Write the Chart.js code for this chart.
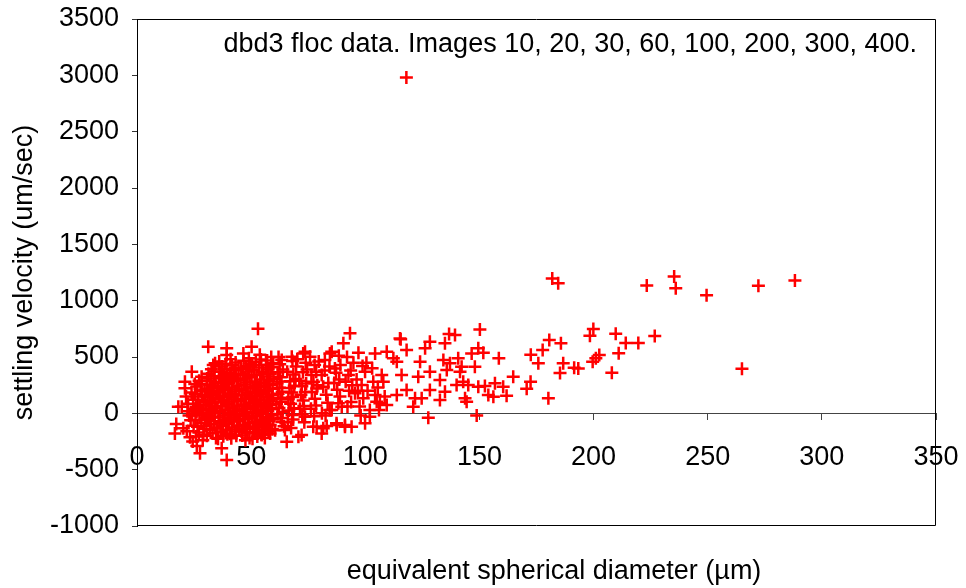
<!DOCTYPE html>
<html>
<head>
<meta charset="utf-8">
<script src="https://cdn.jsdelivr.net/npm/chart.js@4.4.1/dist/chart.umd.min.js"></script>
<style>
  html, body { margin: 0; padding: 0; background: #ffffff; }
  #wrap { width: 966px; height: 588px; }
</style>
</head>
<body>
<div id="wrap"><canvas id="chart" width="966" height="588"></canvas></div>
<script>
// Floc measurements: [equivalent spherical diameter (µm), settling velocity (um/sec)]
const smallFlocs = [
  [16.6,-178],[17.2,-95],[18.1,59],[19.6,59],[20.3,-133],[21,280],[21,222],[21.5,150],[22.4,84],[22.8,-20],
  [23.5,-62],[21.8,-160],[23.2,-212],[24.4,-250],[22.1,18],[24.8,-110],[24,369],[24.6,120],[23.9,185],[25,40],[24.2,-5],
  [27.6,-355],[26.2,-290],[28.8,-240],[25.8,-205],[27.1,-170],[29.4,-140],[26.5,-118],[28.2,-85],[25.6,-60],[29.8,-42],
  [27.4,-20],[26.1,12],[28.9,25],[25.9,58],[27.7,72],[29.2,96],[26.8,118],[28.4,150],[25.5,172],[27.9,196],
  [29.6,210],[26.3,238],[28.3,262],[27.2,290],[28.3,325],[29.1,-190],[29.9,160],[25.3,260],[28.6,-5],[27,40],
  [31.2,591],[33.4,429],[34.2,444],[34.6,-220],[30.6,-198],[33.1,-176],[31.9,-150],[34.9,-132],
  [30.4,-110],[32.3,-95],[33.8,-70],[31.1,-52],[34.1,-35],[30.8,-12],[32.6,5],[33.9,22],[31.4,40],[34.5,58],
  [30.2,75],[32.9,92],[31.7,110],[34.3,128],[30.9,146],[33.3,165],[32.1,182],[34.8,200],[30.5,218],[33.6,236],
  [31.8,254],[34.4,272],[32.4,290],[30.7,310],[33.7,330],[31.3,352],[34.0,372],[32.6,392],[30.3,-60],[32,-30],[33,60],[31,200],
  [39.3,577],[39.3,518],[37.1,-311],[39.3,-414],[35.5,-226],[37.8,-204],[39.6,-186],[36.6,-165],
  [38.9,-146],[35.3,-128],[37.3,-110],[39.1,-92],[36.1,-74],[38.2,-56],[35.8,-38],[37.6,-20],[39.8,-4],[36.4,14],
  [38.7,30],[35.2,48],[37.1,66],[39.4,82],[36.9,100],[38.1,118],[35.7,136],[37.9,154],[39.7,170],[36.3,188],
  [38.5,206],[35.4,224],[37.4,242],[39.2,258],[36.7,276],[38.8,294],[35.9,312],[37.7,332],[39.5,350],[36.5,370],
  [38.3,392],[37.2,415],[39,440],[36,460],
  [41.3,-222],[43.5,-200],[40.8,-182],[42.9,-162],[44.7,-144],[41.6,-126],[43.8,-108],
  [40.2,-90],[42.2,-72],[44.4,-54],[41.1,-36],[43.1,-18],[40.6,0],[42.7,16],[44.9,32],[41.8,50],[43.6,68],
  [40.3,86],[42.4,104],[44.1,122],[41.4,140],[43.3,158],[40.9,176],[42.8,194],[44.6,212],[41.7,230],[43.9,248],
  [40.4,266],[42.1,284],[44.3,302],[41.2,320],[43.4,340],[40.7,360],[42.5,382],[44.5,404],[41.5,428],[43.2,452],
  [41,480],[43.7,-5],[40.1,150],
  [46.6,532],[50.2,591],[47.5,-238],[49.3,-218],[46.1,-196],[48.4,-176],[45.7,-158],[47.9,-140],[49.6,-122],
  [46.5,-104],[48.7,-86],[45.2,-68],[47.3,-50],[49.1,-32],[46.3,-14],[48.2,4],[45.9,22],[47.7,40],[49.8,58],
  [46.8,76],[48.9,94],[45.5,112],[47.1,130],[49.4,148],[46.2,166],[48.5,184],[45.8,202],[47.6,220],[49.7,238],
  [46.9,256],[48.1,274],[45.3,292],[47.4,310],[49.2,330],[46.4,350],[48.6,372],[45.6,394],[47.8,418],[49.5,442],
  [46.7,466],[49,490],[47,-10],
  [53,750],[50.6,-225],[52.7,-205],[54.5,-186],[51.3,-168],[53.4,-150],[50.9,-132],[52.9,-114],[54.8,-96],[51.6,-78],
  [53.7,-60],[50.3,-42],[52.2,-24],[54.2,-6],[51.1,12],[53.2,30],[50.8,48],[52.8,66],[54.6,84],[51.8,102],
  [53.6,120],[50.4,138],[52.4,156],[54.1,174],[51.4,192],[53.3,210],[50.7,228],[52.6,246],[54.4,264],[51.7,282],
  [53.9,300],[50.2,320],[52.3,340],[54.7,362],[51.2,384],[53.5,406],[50.5,430],[52.1,455],[54.3,478],[54.6,-193],
  [53.8,520],
  [55.4,-178],[57.6,-160],[59.3,-142],[56.2,-124],[58.3,-106],[55.8,-88],[57.9,-70],[59.7,-52],[56.6,-34],[58.7,-16],
  [55.2,2],[57.3,20],[59.1,38],[56.4,56],[58.5,74],[55.9,92],[57.8,110],[59.6,128],[56.8,146],[58.9,164],
  [55.5,182],[57.1,200],[59.4,218],[56.1,236],[58.1,254],[55.7,272],[57.7,290],[59.8,308],[56.9,326],[58.4,346],
  [55.3,366],[57.4,388],[59.2,410],[56.5,432],[59.7,444],[58.3,-178],[56,-220],[57,470],[58.8,500]
];

const mediumFlocs = [
  [60.5,-150],[64.4,-114],[63.5,-78],[62.9,-42],[61.6,-6],[63.8,12],[62.2,48],[61.1,84],[63.2,102],[62.8,138],
  [61.8,174],[63.6,192],[62.4,228],[61.4,264],[63.3,282],[62.7,320],[61.7,364],[63.9,388],[62.5,436],[63.4,473],
  [64.8,-148],[62,500],
  [65.6,-252],[67.8,503],[67.5,-130],[66.1,-80],[68.4,-55],[67.9,-15],[66.5,25],[68.7,45],[67.3,85],[66.3,125],
  [68.2,145],[67.7,185],[66.8,225],[68.9,245],[67.1,285],[69.4,305],[68.5,345],[65.8,368],[69.7,415],[68.1,465],
  [70.7,-207],[72.1,-193],[72.8,532],[73.6,547],[73.3,-80],[73.6,-30],[72.4,-10],[71.4,40],[73.1,65],[72.8,115],
  [71.8,165],[73.7,190],[72.2,240],[74.1,265],[71.1,290],[72.7,365],[74.5,390],[73.9,450],[70.2,480],
  [75.8,503],[77.2,-119],[78.7,-119],[77.6,-25],[76.2,40],[78.4,70],[77.9,130],[76.6,190],[78.7,220],[77.3,280],
  [76.4,340],[78.5,370],[77.8,430],[79.6,460],[79,250],
  [80.9,-178],[81.6,-133],[83.1,-113],[80.9,340],[82.3,473],[84.5,532],[85.3,547],[82.6,-20],[84.4,29],[83.5,95],
  [82.9,165],[81.6,235],[83.8,270],[82.2,380],[84.3,415],[81,0],
  [87.4,-89],[87.5,-104],[85.3,29],[89.7,59],[86.7,399],[90.4,621],[88.2,90],[88.9,150],[87.7,210],[86.4,270],
  [88.6,300],[87.2,360],[89.1,430],[88.4,510],
  [91.1,-119],[91.1,-104],[92.6,340],[93.3,710],[94,-119],[94.8,449],[95.5,178],[92.2,60],[93.8,100],[92.9,200],
  [94.3,250],[91.4,280],[93.6,380],[92,500],
  [97,538],[98.4,251],[99.9,369],[99.1,133],[99.9,-89],[97.5,60],[96.2,300],[98.8,420],[96.8,200],[98,-20]
];

const largeFlocs = [
  [102,29],[102,-30],[103.5,280],[104.3,532],[104.3,162],[105,103],[106.4,89],[107.2,340],[107.9,280],[109.4,547],
  [109.4,74],[101,200],[103,400],[105.5,230],[108.5,150],[100.5,450],[106,30],
  [112.3,488],[113.8,458],[113.8,162],[115.5,657],[115.2,665],[115.9,340],[118.1,562],[118.1,207],[118,2980],
  [121,59],[121.8,133],[123.2,325],[124,458],[124.7,133],[126.2,577],[127.6,-40],[128.3,636],[128.3,369],[128.3,207],
  [132.7,296],[132.7,118],[134.2,473],[134.9,621],[134.9,192],[135.7,384],[136.7,704],[137.1,444],[139.3,695],[140,251],
  [140.7,488],[142.2,414],[141.5,369],[142.9,280],[143.7,133],[144.4,103],[145.1,251],[146.6,532],[148,414],[148.8,-20],
  [149.5,577],[149.5,236],[150.2,745],[151.7,538],[152.4,242],[153.9,162],[156.1,147],[156.8,266],[158.5,488],[160.4,236],
  [161.9,155],[164.8,325],[170.7,218],[172.4,280],[172.5,520],[175.8,444],[177.7,562],[180.6,650],[180.2,133],[181.9,1197],
  [184.5,1154],[185.7,621],[186.7,444],[185.3,358],[191.5,404],[193.3,399],
  [198.4,689],[199.9,748],[199.6,458],[201,488],[202.5,517],[208,360],[209.7,707],[211,533],[214.1,624],[219.6,624],
  [223.3,1135],[226.8,686],[235.3,1215],[236,1110],[249.5,1048],[265,396],[272.2,1132],[288.2,1178]
];

const xTicks = { min: 0, max: 350, step: 50 };
const yTicks = { min: -1000, max: 3500, step: 500 };

const captionText = 'dbd3 floc data. Images 10, 20, 30, 60, 100, 200, 300, 400.';
const xTitleText = 'equivalent spherical diameter (\u00b5m)';
const yTitleText = 'settling velocity (um/sec)';

const FONT = "'Liberation Sans', Arial, sans-serif";
const FONT_SIZE = 27;

const points = [...smallFlocs, ...mediumFlocs, ...largeFlocs].map(([x, y]) => ({ x, y }));

// Frame round the plot area plus the in-plot caption and the x-axis title
const frameAndText = {
  id: 'frameAndText',
  beforeDatasetsDraw(chart) {
    const { ctx, chartArea: a } = chart;
    ctx.save();
    ctx.strokeStyle = '#000000';
    ctx.lineWidth = 1;
    const l = Math.round(a.left) + 0.5, t = Math.round(a.top) + 0.5;
    const r = Math.round(a.right) - 0.5, b = Math.round(a.bottom) - 0.5;
    ctx.beginPath();
    ctx.moveTo(l, t); ctx.lineTo(r, t); ctx.lineTo(r, b); ctx.lineTo(l, b);
    ctx.stroke();
    ctx.restore();
  },
  afterDraw(chart) {
    const { ctx, chartArea: a } = chart;
    ctx.save();
    ctx.fillStyle = '#000000';
    ctx.font = FONT_SIZE + 'px ' + FONT;
    ctx.textBaseline = 'middle';
    ctx.textAlign = 'right';
    ctx.fillText(captionText, a.right - 19, a.top + 26);
    ctx.textAlign = 'center';
    ctx.fillText(xTitleText, 554, 572);
    ctx.restore();
  }
};

Chart.defaults.font.family = FONT;
Chart.defaults.font.size = FONT_SIZE;
Chart.defaults.color = '#000000';

new Chart(document.getElementById('chart'), {
  type: 'scatter',
  data: {
    datasets: [{
      label: 'dbd3 floc data',
      data: points,
      pointStyle: 'cross',
      pointRadius: 6.5,
      pointHoverRadius: 6.5,
      pointBorderWidth: 2.5,
      borderColor: '#ff0000',
      backgroundColor: '#ff0000'
    }]
  },
  options: {
    responsive: false,
    animation: false,
    events: [],
    layout: { padding: { left: 0, top: 19, right: 30, bottom: 62 } },
    plugins: {
      legend: { display: false },
      tooltip: { enabled: false }
    },
    scales: {
      x: {
        type: 'linear',
        position: { y: 0 },
        min: xTicks.min,
        max: xTicks.max,
        ticks: { stepSize: xTicks.step, padding: 22, maxRotation: 0, color: '#000000', callback: v => String(v) },
        grid: { display: true, drawOnChartArea: false, drawTicks: true, tickLength: 6, color: '#444444', lineWidth: 1 },
        border: { display: true, color: '#444444', width: 1 },
        afterFit(scale) { scale.paddingLeft = 0; scale.paddingRight = 0; }
      },
      y: {
        type: 'linear',
        position: 'left',
        min: yTicks.min,
        max: yTicks.max,
        ticks: { stepSize: yTicks.step, padding: 13, color: '#000000', callback: v => String(v) },
        grid: { display: true, drawOnChartArea: false, drawTicks: true, tickLength: 5, color: '#333333', lineWidth: 1 },
        border: { display: true, color: '#000000', width: 1 },
        title: { display: true, text: yTitleText, padding: { top: 8, bottom: 0 }, color: '#000000' },
        afterFit(scale) { scale.width = 137; scale.paddingTop = 0; scale.paddingBottom = 0; }
      }
    }
  },
  plugins: [frameAndText]
});
</script>
</body>
</html>
